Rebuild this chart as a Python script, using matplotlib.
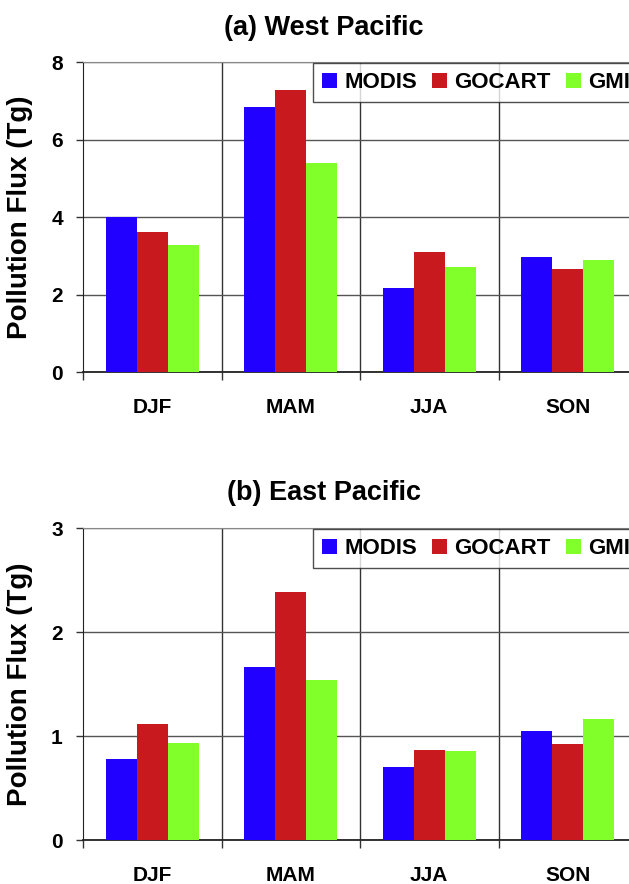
import matplotlib.pyplot as plt
import numpy as np

seasons = ["DJF", "MAM", "JJA", "SON"]
series = ["MODIS", "GOCART", "GMI"]
colors = ["#2200FF", "#C8191E", "#80FF2A"]

west = {
    "MODIS": [4.0, 6.83, 2.18, 2.98],
    "GOCART": [3.62, 7.28, 3.09, 2.65],
    "GMI": [3.27, 5.39, 2.72, 2.88],
}
east = {
    "MODIS": [0.78, 1.665, 0.70, 1.05],
    "GOCART": [1.12, 2.38, 0.866, 0.924],
    "GMI": [0.93, 1.54, 0.857, 1.165],
}

plt.rcParams["font.family"] = ["Liberation Sans", "DejaVu Sans"]
plt.rcParams["font.weight"] = "bold"

fig = plt.figure(figsize=(6.29, 8.84), dpi=100)
W, H = 629, 884


def panel(rect, data, ymax, title, title_y):
    ax = fig.add_axes(rect)
    x = np.arange(len(seasons))
    w = 0.224
    for i, name in enumerate(series):
        ax.bar(x + (i - 1) * w, data[name], w, color=colors[i], label=name, zorder=3)
    ax.set_xlim(-0.5, -0.5 + (W - 83) / 138.5)
    ax.set_ylim(0, ymax)
    ax.set_yticks(np.arange(0, ymax + 1, 2 if ymax > 4 else 1))
    ax.grid(axis="y", color="#555555", lw=1, zorder=1)
    for b in [0.5, 1.5, 2.5]:
        ax.axvline(b, color="#333333", lw=1, zorder=1)
    ax.set_xticks([-0.5, 0.5, 1.5, 2.5])
    ax.set_xticklabels([])
    ax.set_xticks(x, minor=True)
    ax.set_xticklabels(seasons, minor=True, fontsize=15, fontweight="bold")
    ax.tick_params(axis="x", which="minor", length=0, pad=18.5)
    ax.tick_params(axis="x", which="major", length=6, width=1, color="#333333")
    ax.tick_params(axis="y", length=5, width=1, labelsize=15, pad=9.5, color="#333333")
    for lab in ax.get_yticklabels():
        lab.set_fontweight("bold")
    ax.spines["right"].set_visible(False)
    ax.spines["top"].set_color("#888888")
    ax.spines["left"].set_color("#222222")
    ax.spines["bottom"].set_color("#222222")
    ax.spines["bottom"].set_linewidth(1.3)
    ax.set_ylabel("Pollution Flux (Tg)", fontsize=20, fontweight="bold")
    ax.yaxis.set_label_coords((33 - 83) / (W - 83), 0.5)
    leg = ax.legend(ncol=3, loc="upper left", bbox_to_anchor=((312 - 83) / (W - 83), 1.0),
                    frameon=True, fancybox=False, edgecolor="#222222",
                    prop={"weight": "bold", "size": 16}, handlelength=0.68,
                    handleheight=0.68, handletextpad=0.32, columnspacing=0.68,
                    borderpad=0.4, borderaxespad=0.05)
    leg.get_frame().set_linewidth(1)
    leg.set_zorder(5)
    fig.text(324 / W, 1 - title_y / H, title, ha="center", va="center",
             fontsize=19.5, fontweight="bold")
    return ax


panel([83 / W, 1 - 372 / H, (W - 83) / W, 310 / H], west, 8, "(a) West Pacific", 28)
panel([83 / W, 1 - 840 / H, (W - 83) / W, 312 / H], east, 3, "(b) East Pacific", 493)

fig.savefig("out.png", dpi=100)
